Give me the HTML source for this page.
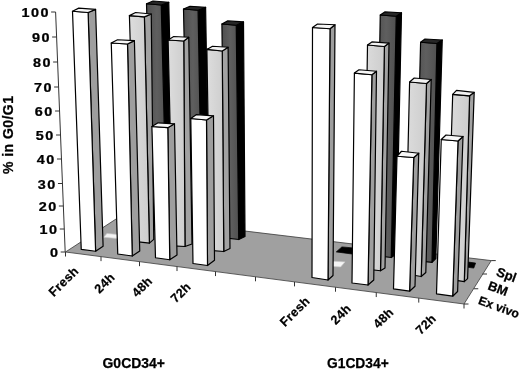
<!DOCTYPE html>
<html><head><meta charset="utf-8"><title>chart</title>
<style>
html,body{margin:0;padding:0;background:#fff;}
svg{display:block;}
text{font-family:"Liberation Sans",Arial,Helvetica,sans-serif;font-weight:bold;fill:#000;stroke:#000;stroke-width:0.25px;}
</style></head><body>
<svg width="520" height="369" viewBox="0 0 520 369">
<defs><linearGradient id="gb" x1="0" y1="0" x2="1" y2="0"><stop offset="0" stop-color="#dddddd"/><stop offset="1" stop-color="#cdcdcd"/></linearGradient><linearGradient id="gs" x1="0" y1="0" x2="1" y2="0"><stop offset="0" stop-color="#4e4e4e"/><stop offset="0.5" stop-color="#5f5f5f"/><stop offset="1" stop-color="#505050"/></linearGradient></defs>
<rect width="520" height="369" fill="#fff"/>
<polygon points="65.50,252.00 464.00,304.00 491.25,260.60 120.50,216.10" fill="#a0a0a0" stroke="#3a3a3a" stroke-width="0.8" stroke-linejoin="round"/>
<polygon points="341.90,246.90 356.00,248.20 352.00,254.00 336.25,251.90" fill="#000" stroke="#000" stroke-width="0.7"/>
<polygon points="463.00,261.30 475.60,263.10 473.75,268.10 461.00,266.30" fill="#000" stroke="#000" stroke-width="0.7"/>
<polygon points="161.25,5.00 168.75,2.25 174.07,228.32 166.90,231.02" fill="#000000" stroke="#000" stroke-width="1.2" stroke-linejoin="round"/>
<polygon points="146.50,3.75 161.25,5.00 166.90,231.02 152.79,229.36" fill="url(#gs)" stroke="#000" stroke-width="1.2" stroke-linejoin="round"/>
<polygon points="146.50,3.75 161.25,5.00 168.75,2.25 153.00,1.00" fill="#262626" stroke="#000" stroke-width="1.2" stroke-linejoin="round"/>
<polygon points="198.10,10.25 205.60,7.25 209.28,232.38 202.10,235.18" fill="#000000" stroke="#000" stroke-width="1.2" stroke-linejoin="round"/>
<polygon points="183.50,9.00 198.10,10.25 202.10,235.18 188.14,233.53" fill="url(#gs)" stroke="#000" stroke-width="1.2" stroke-linejoin="round"/>
<polygon points="183.50,9.00 198.10,10.25 205.60,7.25 190.00,6.25" fill="#262626" stroke="#000" stroke-width="1.2" stroke-linejoin="round"/>
<polygon points="236.25,25.25 243.50,21.90 245.00,236.50 238.75,239.50" fill="#000000" stroke="#000" stroke-width="1.2" stroke-linejoin="round"/>
<polygon points="221.90,24.00 236.25,25.25 238.75,239.50 224.71,237.84" fill="url(#gs)" stroke="#000" stroke-width="1.2" stroke-linejoin="round"/>
<polygon points="221.90,24.00 236.25,25.25 243.50,21.90 227.75,20.90" fill="#262626" stroke="#000" stroke-width="1.2" stroke-linejoin="round"/>
<polygon points="396.25,16.25 401.50,12.75 396.23,253.94 391.25,257.50" fill="#000000" stroke="#000" stroke-width="1.2" stroke-linejoin="round"/>
<polygon points="380.25,15.00 396.25,16.25 391.25,257.50 375.98,255.69" fill="url(#gs)" stroke="#000" stroke-width="1.2" stroke-linejoin="round"/>
<polygon points="380.25,15.00 396.25,16.25 401.50,12.75 384.75,11.90" fill="#262626" stroke="#000" stroke-width="1.2" stroke-linejoin="round"/>
<polygon points="436.90,43.50 442.25,40.00 435.80,258.50 432.00,262.30" fill="#000000" stroke="#000" stroke-width="1.2" stroke-linejoin="round"/>
<polygon points="420.60,42.25 436.90,43.50 432.00,262.30 415.02,260.30" fill="url(#gs)" stroke="#000" stroke-width="1.2" stroke-linejoin="round"/>
<polygon points="420.60,42.25 436.90,43.50 442.25,40.00 425.00,39.00" fill="#262626" stroke="#000" stroke-width="1.2" stroke-linejoin="round"/>
<polygon points="106.90,233.50 120.00,234.70 117.00,238.40 103.75,237.25" fill="#f4f4f4" stroke="#c8c8c8" stroke-width="0.7"/>
<polygon points="331.00,261.10 345.00,261.90 340.60,266.90 326.50,266.00" fill="#f4f4f4" stroke="#c8c8c8" stroke-width="0.7"/>
<polygon points="144.40,16.90 151.25,14.00 153.75,239.40 149.40,243.10" fill="#a2a2a2" stroke="#000" stroke-width="1.2" stroke-linejoin="round"/>
<polygon points="129.40,15.60 144.40,16.90 149.40,243.10 136.45,241.55" fill="url(#gb)" stroke="#000" stroke-width="1.2" stroke-linejoin="round"/>
<polygon points="129.40,15.60 144.40,16.90 151.25,14.00 135.60,12.50" fill="#f2f2f2" stroke="#000" stroke-width="1.2" stroke-linejoin="round"/>
<polygon points="183.75,41.00 188.75,37.25 192.00,244.00 185.00,246.50" fill="#a2a2a2" stroke="#000" stroke-width="1.2" stroke-linejoin="round"/>
<polygon points="168.10,40.00 183.75,41.00 185.00,246.50 172.97,245.93" fill="url(#gb)" stroke="#000" stroke-width="1.2" stroke-linejoin="round"/>
<polygon points="168.10,40.00 183.75,41.00 188.75,37.25 173.75,36.50" fill="#f2f2f2" stroke="#000" stroke-width="1.2" stroke-linejoin="round"/>
<polygon points="222.25,51.00 228.10,47.25 230.00,248.50 223.75,251.50" fill="#a2a2a2" stroke="#000" stroke-width="1.2" stroke-linejoin="round"/>
<polygon points="206.90,49.40 222.25,51.00 223.75,251.50 210.13,250.39" fill="url(#gb)" stroke="#000" stroke-width="1.2" stroke-linejoin="round"/>
<polygon points="206.90,49.40 222.25,51.00 228.10,47.25 212.50,46.25" fill="#f2f2f2" stroke="#000" stroke-width="1.2" stroke-linejoin="round"/>
<polygon points="384.40,46.50 389.00,43.10 385.00,268.00 380.50,270.75" fill="#a2a2a2" stroke="#000" stroke-width="1.2" stroke-linejoin="round"/>
<polygon points="367.50,45.00 384.40,46.50 380.50,270.75 364.09,268.86" fill="url(#gb)" stroke="#000" stroke-width="1.2" stroke-linejoin="round"/>
<polygon points="367.50,45.00 384.40,46.50 389.00,43.10 371.90,41.90" fill="#f2f2f2" stroke="#000" stroke-width="1.2" stroke-linejoin="round"/>
<polygon points="426.50,83.50 431.20,79.50 425.80,272.50 421.20,276.50" fill="#a2a2a2" stroke="#000" stroke-width="1.2" stroke-linejoin="round"/>
<polygon points="409.60,82.00 426.50,83.50 421.20,276.50 405.10,273.78" fill="url(#gb)" stroke="#000" stroke-width="1.2" stroke-linejoin="round"/>
<polygon points="409.60,82.00 426.50,83.50 431.20,79.50 414.20,78.00" fill="#f2f2f2" stroke="#000" stroke-width="1.2" stroke-linejoin="round"/>
<polygon points="469.60,95.80 474.20,92.30 467.60,278.60 464.30,281.60" fill="#a2a2a2" stroke="#000" stroke-width="1.2" stroke-linejoin="round"/>
<polygon points="452.70,94.30 469.60,95.80 464.30,281.60 446.82,278.79" fill="url(#gb)" stroke="#000" stroke-width="1.2" stroke-linejoin="round"/>
<polygon points="452.70,94.30 469.60,95.80 474.20,92.30 456.50,90.30" fill="#f2f2f2" stroke="#000" stroke-width="1.2" stroke-linejoin="round"/>
<polygon points="88.10,12.50 95.60,9.40 103.10,246.25 95.60,251.25" fill="#9e9e9e" stroke="#000" stroke-width="1.2" stroke-linejoin="round"/>
<polygon points="72.50,11.25 88.10,12.50 95.60,251.25 81.25,249.40" fill="#ffffff" stroke="#000" stroke-width="1.2" stroke-linejoin="round"/>
<polygon points="72.50,11.25 88.10,12.50 95.60,9.40 78.75,8.10" fill="#f6f6f6" stroke="#000" stroke-width="1.2" stroke-linejoin="round"/>
<polygon points="127.50,44.00 134.40,40.60 139.75,251.00 132.25,256.00" fill="#9e9e9e" stroke="#000" stroke-width="1.2" stroke-linejoin="round"/>
<polygon points="111.25,43.00 127.50,44.00 132.25,256.00 117.75,254.00" fill="#ffffff" stroke="#000" stroke-width="1.2" stroke-linejoin="round"/>
<polygon points="111.25,43.00 127.50,44.00 134.40,40.60 117.50,39.75" fill="#f6f6f6" stroke="#000" stroke-width="1.2" stroke-linejoin="round"/>
<polygon points="167.80,127.70 174.50,123.80 177.00,255.00 169.75,259.75" fill="#9e9e9e" stroke="#000" stroke-width="1.2" stroke-linejoin="round"/>
<polygon points="151.90,126.50 167.80,127.70 169.75,259.75 155.50,257.75" fill="#ffffff" stroke="#000" stroke-width="1.2" stroke-linejoin="round"/>
<polygon points="151.90,126.50 167.80,127.70 174.50,123.80 158.10,122.80" fill="#f6f6f6" stroke="#000" stroke-width="1.2" stroke-linejoin="round"/>
<polygon points="206.50,120.00 213.50,115.80 214.50,260.25 207.50,265.50" fill="#9e9e9e" stroke="#000" stroke-width="1.2" stroke-linejoin="round"/>
<polygon points="190.80,118.50 206.50,120.00 207.50,265.50 193.00,263.50" fill="#ffffff" stroke="#000" stroke-width="1.2" stroke-linejoin="round"/>
<polygon points="190.80,118.50 206.50,120.00 213.50,115.80 196.50,114.60" fill="#f6f6f6" stroke="#000" stroke-width="1.2" stroke-linejoin="round"/>
<polygon points="330.00,28.75 335.00,24.75 333.00,275.50 328.00,280.00" fill="#9e9e9e" stroke="#000" stroke-width="1.2" stroke-linejoin="round"/>
<polygon points="312.50,27.50 330.00,28.75 328.00,280.00 312.00,277.50" fill="#ffffff" stroke="#000" stroke-width="1.2" stroke-linejoin="round"/>
<polygon points="312.50,27.50 330.00,28.75 335.00,24.75 317.50,24.00" fill="#f6f6f6" stroke="#000" stroke-width="1.2" stroke-linejoin="round"/>
<polygon points="371.90,74.75 376.50,71.25 373.75,280.00 368.00,285.00" fill="#9e9e9e" stroke="#000" stroke-width="1.2" stroke-linejoin="round"/>
<polygon points="354.40,73.10 371.90,74.75 368.00,285.00 352.00,283.00" fill="#ffffff" stroke="#000" stroke-width="1.2" stroke-linejoin="round"/>
<polygon points="354.40,73.10 371.90,74.75 376.50,71.25 359.00,69.75" fill="#f6f6f6" stroke="#000" stroke-width="1.2" stroke-linejoin="round"/>
<polygon points="413.75,157.50 418.75,153.25 415.00,286.20 409.60,291.20" fill="#9e9e9e" stroke="#000" stroke-width="1.2" stroke-linejoin="round"/>
<polygon points="397.00,156.25 413.75,157.50 409.60,291.20 393.50,288.80" fill="#ffffff" stroke="#000" stroke-width="1.2" stroke-linejoin="round"/>
<polygon points="397.00,156.25 413.75,157.50 418.75,153.25 401.50,151.25" fill="#f6f6f6" stroke="#000" stroke-width="1.2" stroke-linejoin="round"/>
<polygon points="458.00,141.00 463.00,136.50 457.60,291.50 452.70,296.20" fill="#9e9e9e" stroke="#000" stroke-width="1.2" stroke-linejoin="round"/>
<polygon points="441.25,139.50 458.00,141.00 452.70,296.20 436.50,293.80" fill="#ffffff" stroke="#000" stroke-width="1.2" stroke-linejoin="round"/>
<polygon points="441.25,139.50 458.00,141.00 463.00,136.50 446.00,135.00" fill="#f6f6f6" stroke="#000" stroke-width="1.2" stroke-linejoin="round"/>
<line x1="55.60" y1="12" x2="65.20" y2="252" stroke="#333" stroke-width="1"/>
<line x1="51.10" y1="12.00" x2="55.60" y2="12.00" stroke="#333" stroke-width="1"/>
<text transform="translate(49.90,17.30) scale(1.2,1)" text-anchor="end" font-size="12" style="letter-spacing:1.25px">100</text>
<line x1="52.10" y1="37.00" x2="56.60" y2="37.00" stroke="#333" stroke-width="1"/>
<text transform="translate(50.90,42.30) scale(1.2,1)" text-anchor="end" font-size="12" style="letter-spacing:1.25px">90</text>
<line x1="53.10" y1="62.00" x2="57.60" y2="62.00" stroke="#333" stroke-width="1"/>
<text transform="translate(51.90,67.30) scale(1.2,1)" text-anchor="end" font-size="12" style="letter-spacing:1.25px">80</text>
<line x1="54.10" y1="87.00" x2="58.60" y2="87.00" stroke="#333" stroke-width="1"/>
<text transform="translate(52.90,92.30) scale(1.2,1)" text-anchor="end" font-size="12" style="letter-spacing:1.25px">70</text>
<line x1="55.06" y1="111.00" x2="59.56" y2="111.00" stroke="#333" stroke-width="1"/>
<text transform="translate(53.86,116.30) scale(1.2,1)" text-anchor="end" font-size="12" style="letter-spacing:1.25px">60</text>
<line x1="56.02" y1="135.00" x2="60.52" y2="135.00" stroke="#333" stroke-width="1"/>
<text transform="translate(54.82,140.30) scale(1.2,1)" text-anchor="end" font-size="12" style="letter-spacing:1.25px">50</text>
<line x1="56.98" y1="159.00" x2="61.48" y2="159.00" stroke="#333" stroke-width="1"/>
<text transform="translate(55.78,164.30) scale(1.2,1)" text-anchor="end" font-size="12" style="letter-spacing:1.25px">40</text>
<line x1="57.96" y1="183.50" x2="62.46" y2="183.50" stroke="#333" stroke-width="1"/>
<text transform="translate(56.76,188.80) scale(1.2,1)" text-anchor="end" font-size="12" style="letter-spacing:1.25px">30</text>
<line x1="58.86" y1="206.00" x2="63.36" y2="206.00" stroke="#333" stroke-width="1"/>
<text transform="translate(57.66,211.30) scale(1.2,1)" text-anchor="end" font-size="12" style="letter-spacing:1.25px">20</text>
<line x1="59.78" y1="229.00" x2="64.28" y2="229.00" stroke="#333" stroke-width="1"/>
<text transform="translate(58.58,234.30) scale(1.2,1)" text-anchor="end" font-size="12" style="letter-spacing:1.25px">10</text>
<line x1="60.70" y1="252.00" x2="65.20" y2="252.00" stroke="#333" stroke-width="1"/>
<text transform="translate(59.50,257.30) scale(1.2,1)" text-anchor="end" font-size="12" style="letter-spacing:1.25px">0</text>
<line x1="65.50" y1="252.00" x2="65.50" y2="256.50" stroke="#333" stroke-width="1"/>
<line x1="101.00" y1="256.63" x2="101.00" y2="261.13" stroke="#333" stroke-width="1"/>
<line x1="139.50" y1="261.66" x2="139.50" y2="266.16" stroke="#333" stroke-width="1"/>
<line x1="177.00" y1="266.55" x2="177.00" y2="271.05" stroke="#333" stroke-width="1"/>
<line x1="215.50" y1="271.57" x2="215.50" y2="276.07" stroke="#333" stroke-width="1"/>
<line x1="255.50" y1="276.79" x2="255.50" y2="281.29" stroke="#333" stroke-width="1"/>
<line x1="294.50" y1="281.88" x2="294.50" y2="286.38" stroke="#333" stroke-width="1"/>
<line x1="335.50" y1="287.23" x2="335.50" y2="291.73" stroke="#333" stroke-width="1"/>
<line x1="376.25" y1="292.55" x2="376.25" y2="297.05" stroke="#333" stroke-width="1"/>
<line x1="418.75" y1="298.10" x2="418.75" y2="302.60" stroke="#333" stroke-width="1"/>
<line x1="464.00" y1="304.00" x2="464.00" y2="308.50" stroke="#333" stroke-width="1"/>
<text transform="translate(79.35,271.70) rotate(-45)" text-anchor="end" font-size="12.5" style="letter-spacing:0.4px">Fresh</text>
<text transform="translate(115.60,277.95) rotate(-45)" text-anchor="end" font-size="12.5" style="letter-spacing:0.4px">24h</text>
<text transform="translate(153.10,281.70) rotate(-45)" text-anchor="end" font-size="12.5" style="letter-spacing:0.4px">48h</text>
<text transform="translate(191.80,287.50) rotate(-45)" text-anchor="end" font-size="12.5" style="letter-spacing:0.4px">72h</text>
<text transform="translate(310.60,301.70) rotate(-45)" text-anchor="end" font-size="12.5" style="letter-spacing:0.4px">Fresh</text>
<text transform="translate(351.85,309.20) rotate(-45)" text-anchor="end" font-size="12.5" style="letter-spacing:0.4px">24h</text>
<text transform="translate(394.35,312.95) rotate(-45)" text-anchor="end" font-size="12.5" style="letter-spacing:0.4px">48h</text>
<text transform="translate(436.85,319.20) rotate(-45)" text-anchor="end" font-size="12.5" style="letter-spacing:0.4px">72h</text>
<line x1="491.25" y1="260.60" x2="495.75" y2="260.60" stroke="#333" stroke-width="1"/>
<line x1="482.50" y1="274.00" x2="487.00" y2="274.00" stroke="#333" stroke-width="1"/>
<line x1="473.75" y1="288.75" x2="478.25" y2="288.75" stroke="#333" stroke-width="1"/>
<line x1="464.00" y1="304.00" x2="468.50" y2="304.00" stroke="#333" stroke-width="1"/>
<text transform="translate(495.50,275.50) rotate(20)" font-size="13">Spl</text>
<text transform="translate(487.00,289.20) rotate(20)" font-size="13">BM</text>
<text transform="translate(477.50,303.70) rotate(20)" font-size="12.2">Ex vivo</text>
<text x="102.5" y="367.5" font-size="14" textLength="62.5" lengthAdjust="spacingAndGlyphs">G0CD34+</text>
<text x="327" y="367.5" font-size="14" textLength="61.75" lengthAdjust="spacingAndGlyphs">G1CD34+</text>
<text transform="translate(13,174) rotate(-90)" font-size="14" textLength="78" lengthAdjust="spacing">% in G0/G1</text>
</svg>
</body></html>
